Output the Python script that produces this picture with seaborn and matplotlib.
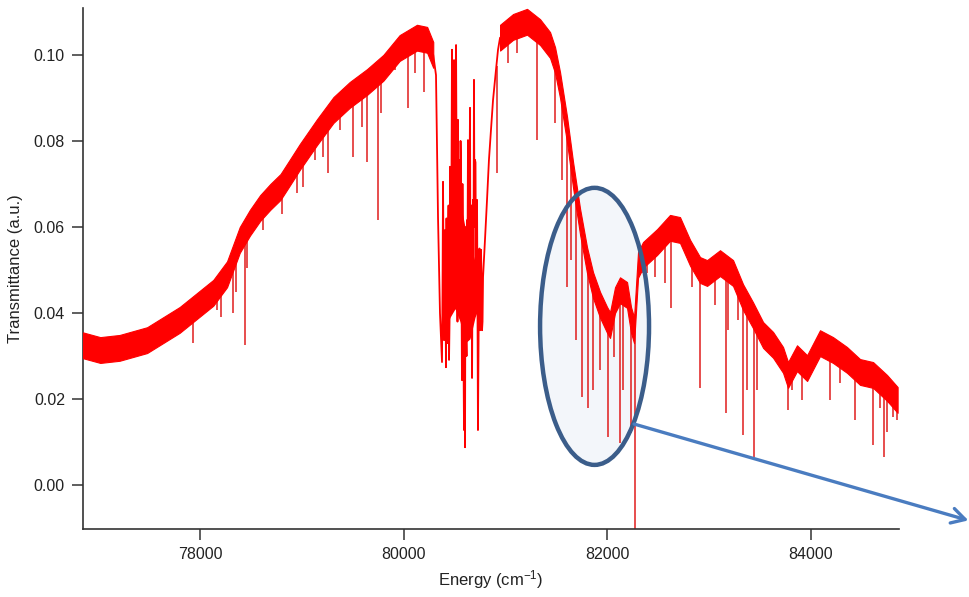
import numpy as np
import seaborn as sns
import matplotlib
matplotlib.use("Agg")
import matplotlib.pyplot as plt
from matplotlib.patches import Ellipse

# band centre of the noisy spectrum, low-energy hump (cm^-1, a.u.)
energy_low = [76850, 77020, 77210, 77480, 77800, 78130, 78265, 78390, 78490, 78590,
              78690, 78790, 78880, 78980, 79150, 79310, 79470, 79640, 79800, 79960,
              80130, 80230, 80290]
trans_low = [0.0325, 0.0314, 0.0319, 0.0337, 0.0384, 0.0447, 0.0490, 0.0570, 0.0610, 0.0644,
             0.0670, 0.0693, 0.0726, 0.0763, 0.0821, 0.0872, 0.0907, 0.0937, 0.0970, 0.1016,
             0.1040, 0.1035, 0.1000]

# dense absorption forest between the two humps
energy_band = [80290, 80317, 80337, 80356, 80376, 80381, 80386, 80391, 80396, 80401,
               80406, 80410, 80415, 80420, 80425, 80430, 80435, 80440, 80445, 80450,
               80455, 80459, 80464, 80469, 80474, 80479, 80484, 80489, 80494, 80499,
               80504, 80509, 80514, 80518, 80523, 80528, 80533, 80538, 80543, 80548,
               80553, 80558, 80563, 80567, 80572, 80577, 80582, 80587, 80592, 80597,
               80602, 80607, 80612, 80617, 80622, 80626, 80631, 80636, 80641, 80646,
               80651, 80656, 80661, 80666, 80671, 80675, 80680, 80685, 80690, 80695,
               80700, 80705, 80710, 80715, 80720, 80724, 80729, 80734, 80739, 80744,
               80749, 80754, 80759, 80764, 80769, 80774, 80779, 80798, 80818, 80837,
               80857, 80877, 80906, 80926, 80946]
trans_band = [0.1000, 0.0953, 0.0620, 0.0400, 0.0286, 0.0450, 0.0705, 0.0520, 0.0337, 0.0400,
              0.0593, 0.0460, 0.0274, 0.0620, 0.0430, 0.0330, 0.0547, 0.0650, 0.0291, 0.0380,
              0.0740, 0.0520, 0.0593, 0.0700, 0.1012, 0.0650, 0.0430, 0.0600, 0.0988, 0.0650,
              0.0802, 0.0700, 0.1023, 0.0800, 0.0547, 0.0380, 0.0849, 0.0600, 0.0756, 0.0520,
              0.0430, 0.0800, 0.0709, 0.0480, 0.0244, 0.0700, 0.0500, 0.0300, 0.0128, 0.0350,
              0.0088, 0.0600, 0.0360, 0.0300, 0.0616, 0.0500, 0.0802, 0.0650, 0.0430, 0.0700,
              0.0877, 0.0420, 0.0547, 0.0650, 0.0249, 0.0450, 0.0663, 0.0500, 0.0942, 0.0600,
              0.0756, 0.0750, 0.0430, 0.0480, 0.0663, 0.0450, 0.0128, 0.0300, 0.0477, 0.0550,
              0.0360, 0.0420, 0.0547, 0.0480, 0.0360, 0.0380, 0.0484, 0.0570, 0.0663, 0.0756,
              0.0826, 0.0895, 0.0965, 0.1012, 0.1040]

# where the forest lines are packed so tightly they read as solid red
energy_core = [80386, 80406, 80455, 80504, 80553, 80602, 80651, 80700, 80749, 80769]
core_top = [0.0480, 0.0560, 0.0620, 0.0700, 0.0660, 0.0600, 0.0560, 0.0520, 0.0500, 0.0480]
core_bottom = [0.0380, 0.0360, 0.0390, 0.0410, 0.0380, 0.0330, 0.0340, 0.0390, 0.0420, 0.0440]

# band centre, high-energy side
energy_high = [80946, 81074, 81211, 81339, 81437, 81486, 81535, 81604, 81663, 81732,
               81800, 81859, 81928, 81997, 82026, 82075, 82124, 82193, 82232, 82262,
               82301, 82350, 82488, 82615, 82713, 82812, 82910, 82979, 83106, 83234,
               83332, 83430, 83529, 83627, 83725, 83774, 83862, 83961, 84088, 84216,
               84353, 84481, 84609, 84746, 84850]
trans_high = [0.1040, 0.1065, 0.1077, 0.1053, 0.1023, 0.0988, 0.0930, 0.0826, 0.0721, 0.0612,
              0.0523, 0.0465, 0.0419, 0.0384, 0.0372, 0.0430, 0.0453, 0.0442, 0.0384, 0.0360,
              0.0512, 0.0535, 0.0565, 0.0598, 0.0593, 0.0540, 0.0500, 0.0493, 0.0516, 0.0493,
              0.0437, 0.0395, 0.0349, 0.0326, 0.0291, 0.0256, 0.0295, 0.0272, 0.0330, 0.0314,
              0.0291, 0.0263, 0.0256, 0.0226, 0.0198]

# narrow absorption lines: position and minimum transmittance
line_pos = [77931, 78167, 78206, 78324, 78353, 78442, 78461, 78619, 78805, 78952,
            79011, 79129, 79208, 79257, 79375, 79502, 79591, 79640, 79748, 79777,
            79913, 80043, 80111, 80200, 80916, 81025, 81113, 81309, 81486, 81555,
            81604, 81643, 81692, 81751, 81810, 81859, 81928, 82007, 82065, 82124,
            82154, 82232, 82272, 82350, 82389, 82468, 82566, 82625, 82831, 82910,
            83057, 83165, 83185, 83283, 83332, 83371, 83440, 83470, 83774, 83813,
            83912, 84187, 84285, 84432, 84609, 84678, 84717, 84746, 84805, 84840]
line_min = [0.0330, 0.0407, 0.0391, 0.0400, 0.0449, 0.0326, 0.0505, 0.0593, 0.0630, 0.0679,
            0.0693, 0.0756, 0.0763, 0.0726, 0.0826, 0.0763, 0.0833, 0.0751, 0.0616, 0.0865,
            0.0965, 0.0877, 0.0958, 0.0914, 0.0726, 0.0981, 0.1005, 0.0802, 0.0842, 0.0709,
            0.0460, 0.0523, 0.0337, 0.0205, 0.0179, 0.0221, 0.0267, 0.0112, 0.0298, 0.0098,
            0.0221, 0.0121, -0.0102, 0.0493, 0.0493, 0.0484, 0.0470, 0.0412, 0.0460, 0.0226,
            0.0419, 0.0167, 0.0360, 0.0384, 0.0116, 0.0221, 0.0065, 0.0221, 0.0174, 0.0220,
            0.0198, 0.0198, 0.0237, 0.0151, 0.0093, 0.0180, 0.0065, 0.0123, 0.0158, 0.0151]

noise_half = 0.003  # half thickness of the noisy band

RED = "#ff0000"
LINE_RED = "#e01c1c"

sns.set_theme(style="ticks")
plt.rcParams["font.family"] = ["Liberation Sans", "DejaVu Sans"]
plt.rcParams["mathtext.default"] = "regular"

fig = plt.figure(figsize=(9.69, 5.97), dpi=100)
ax = fig.add_axes([0.0857, 0.1139, 0.8421, 0.8727])

for e, t in ((energy_low, trans_low), (energy_high, trans_high)):
    e = np.asarray(e)
    t = np.asarray(t)
    ax.fill_between(e, t - noise_half, t + noise_half, color=RED, lw=0.8, zorder=3)

ax.fill_between(energy_core, core_bottom, core_top, color=RED, lw=0, zorder=3)
sns.lineplot(x=energy_band, y=trans_band, color=RED, lw=1.3, estimator=None,
             sort=False, ax=ax, zorder=3)

# absorption lines hang from the band
all_e = np.concatenate([energy_low, energy_band[1:-1], energy_high])
all_t = np.concatenate([trans_low, trans_band[1:-1], trans_high])
base = np.interp(line_pos, all_e, all_t) - noise_half * 0.5
ax.vlines(line_pos, line_min, base, color=LINE_RED, lw=1.1, zorder=2)

# highlighted region: pale fill under the spectrum, outline above it
centre, w, h = (81874, 0.0369), 1070, 0.0644
ax.add_patch(Ellipse(centre, width=w, height=h, facecolor="#f3f6fa",
                     edgecolor="none", zorder=1))
ax.add_patch(Ellipse(centre, width=w, height=h, facecolor="none",
                     edgecolor="#3b5d8a", lw=3.2, zorder=5))
ax.annotate("", xy=(85545, -0.0082), xytext=(82262, 0.0142), xycoords="data",
            arrowprops=dict(arrowstyle="->,head_length=0.8,head_width=0.45",
                            color="#4a7cc0", lw=2.4, shrinkA=0, shrinkB=0),
            annotation_clip=False, zorder=6)

ax.set_xlim(76851, 84864)
ax.set_ylim(-0.0102, 0.1109)
ax.set_xticks([78000, 80000, 82000, 84000])
ax.set_xticklabels(["78000", "80000", "82000", "84000"])
ax.set_yticks([0.0, 0.02, 0.04, 0.06, 0.08, 0.10])
ax.set_yticklabels(["0.00", "0.02", "0.04", "0.06", "0.08", "0.10"])
ax.tick_params(direction="out", length=8, width=1.1, colors="#333333",
               labelsize=11.5, labelcolor="#222222", pad=5)
ax.set_xlabel("Energy (cm$^{-1}$)", fontsize=12, color="#222222", labelpad=4)
ax.set_ylabel("Transmittance (a.u.)", fontsize=12, color="#222222", labelpad=8)

sns.despine(ax=ax)
for side in ("left", "bottom"):
    ax.spines[side].set_color("#333333")
    ax.spines[side].set_linewidth(1.2)

fig.savefig("out.png", dpi=100)
